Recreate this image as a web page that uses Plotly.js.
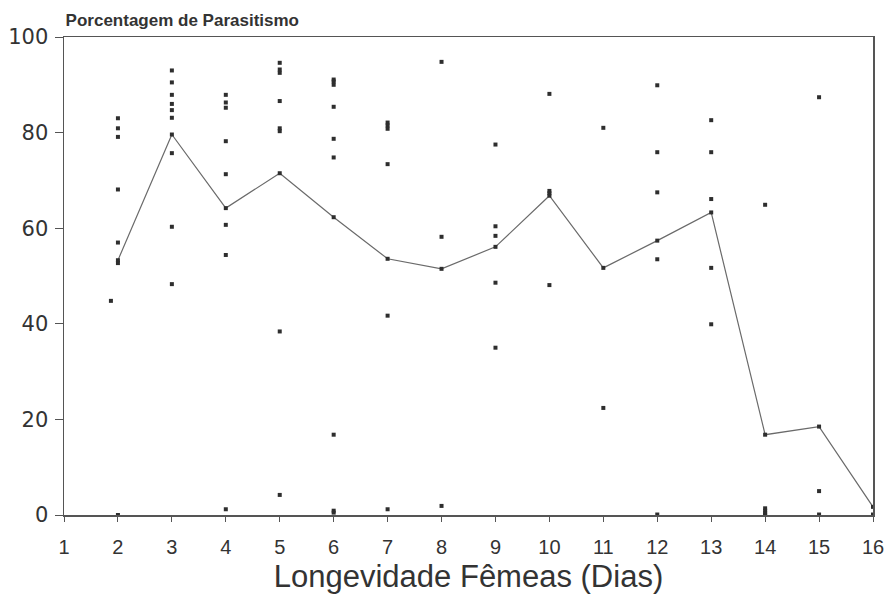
<!DOCTYPE html>
<html>
<head>
<meta charset="utf-8">
<script src="https://cdn.plot.ly/plotly-3.0.1.min.js"></script>
<style>html,body{margin:0;padding:0;background:#fff;}#chart{width:891px;height:598px;}</style>
</head>
<body>
<div id="chart"></div>
<script>
// Mean parasitism per female longevity (days)
const meanDays = [2, 3, 4, 5, 6, 7, 8, 9, 10, 11, 12, 13, 14, 15, 16];
const meanPct  = [53.3, 79.6, 64.2, 71.5, 62.3, 53.6, 51.5, 56.1, 66.8, 51.7, 57.4, 63.3, 16.8, 18.5, 1.7];

// Individual observations
const obsDays = [
  1.87,
  2, 2, 2, 2, 2, 2, 2,
  3, 3, 3, 3, 3, 3, 3, 3, 3,
  4, 4, 4, 4, 4, 4, 4, 4,
  5, 5, 5, 5, 5, 5, 5, 5,
  6, 6, 6, 6, 6, 6, 6, 6, 6,
  7, 7, 7, 7, 7, 7,
  8, 8, 8,
  9, 9, 9, 9, 9,
  10, 10, 10, 10,
  11, 11,
  12, 12, 12, 12, 12,
  13, 13, 13, 13, 13,
  14, 14, 14, 14, 14,
  15, 15, 15,
  16
];
const obsPct = [
  44.8,
  83.0, 80.9, 79.1, 68.1, 57.0, 52.7, 0.0,
  93.0, 90.5, 87.9, 86.0, 84.7, 83.1, 75.7, 60.3, 48.3,
  87.9, 86.3, 85.2, 78.2, 71.3, 60.7, 54.4, 1.2,
  94.6, 93.2, 92.5, 86.6, 80.9, 80.3, 38.4, 4.2,
  91.1, 90.7, 90.0, 85.4, 78.7, 74.8, 16.8, 0.9, 0.5,
  82.1, 81.5, 80.8, 73.4, 41.7, 1.2,
  94.8, 58.2, 1.9,
  77.5, 60.4, 58.4, 48.6, 35.0,
  88.1, 67.8, 67.3, 48.1,
  81.0, 22.4,
  89.9, 75.9, 67.5, 53.5, 0.1,
  82.6, 75.9, 66.1, 51.7, 39.9,
  64.9, 1.4, 0.9, 0.4, 0.0,
  87.4, 5.0, 0.1,
  0.1
];

const xTickVals = [1, 2, 3, 4, 5, 6, 7, 8, 9, 10, 11, 12, 13, 14, 15, 16];
const yTickVals = [0, 20, 40, 60, 80, 100];

const inkDark = '#333333';

const traces = [
  {
    type: 'scatter', mode: 'markers',
    x: obsDays, y: obsPct,
    marker: {symbol: 'square', size: 4, color: '#2e2e2e'},
    cliponaxis: false, showlegend: false, hoverinfo: 'none'
  },
  {
    type: 'scatter', mode: 'lines+markers',
    x: meanDays, y: meanPct,
    line: {color: '#6a6a6a', width: 1.2},
    marker: {symbol: 'square', size: 4, color: '#2e2e2e'},
    cliponaxis: false, showlegend: false, hoverinfo: 'none'
  }
];

const layout = {
  width: 891, height: 598,
  paper_bgcolor: '#ffffff', plot_bgcolor: '#ffffff',
  margin: {l: 64, r: 18, t: 37, b: 83},
  showlegend: false,
  title: {
    text: 'Porcentagem de Parasitismo',
    font: {family: 'Liberation Sans, Arial, sans-serif', size: 17, color: inkDark, weight: 'bold'},
    xref: 'paper', x: 0.002, xanchor: 'left',
    yref: 'container', y: 0.966, yanchor: 'middle'
  },
  xaxis: {
    range: [1, 16],
    tickmode: 'array', tickvals: xTickVals, ticktext: xTickVals.map(String),
    ticks: 'outside', ticklen: 5, tickwidth: 1, tickcolor: '#555',
    ticklabelstandoff: 8,
    showline: true, linecolor: '#555', linewidth: 1.5, mirror: true,
    showgrid: false, zeroline: false,
    tickfont: {family: 'Liberation Sans, Arial, sans-serif', size: 20, color: inkDark},
    title: {
      text: 'Longevidade Fêmeas (Dias)',
      font: {family: 'Liberation Sans, Arial, sans-serif', size: 31, color: inkDark},
      standoff: 9
    }
  },
  yaxis: {
    range: [0, 100],
    tickmode: 'array', tickvals: yTickVals, ticktext: yTickVals.map(String),
    ticks: 'outside', ticklen: 8, tickwidth: 1, tickcolor: '#555',
    ticklabelstandoff: 2,
    showline: true, linecolor: '#555', linewidth: 1.5, mirror: true,
    showgrid: false, zeroline: false,
    tickfont: {family: 'DejaVu Sans, sans-serif', size: 21, color: inkDark}
  }
};

Plotly.newPlot('chart', traces, layout, {displayModeBar: false, staticPlot: true});
</script>
</body>
</html>
